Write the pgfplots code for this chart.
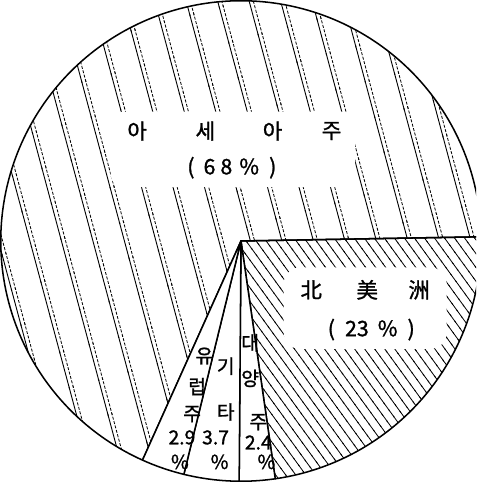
\documentclass[border=0pt]{standalone}
\usepackage{fontspec}
\setmainfont{Noto Sans CJK KR}[AutoFakeBold=1.2]
\usepackage{pgfplots}
\pgfplotsset{compat=1.18}
\usetikzlibrary{patterns.meta}

% pie data (percent)
\def\vNA{23}\def\vOC{2.4}\def\vOT{3.7}\def\vEU{2.9}\def\vAS{68}
\def\R{236}
\pgfmathsetmacro\aS{1}
\pgfmathsetmacro\aNA{\aS-3.6*\vNA}
\pgfmathsetmacro\aOC{\aNA-3.6*\vOC}
\pgfmathsetmacro\aOT{\aOC-3.6*\vOT}
\pgfmathsetmacro\aEU{\aOT-3.6*\vEU}
\pgfmathsetmacro\aAS{\aEU-3.6*\vAS}

\tikzdeclarepattern{
  name=asiahatch,
  type=uncolored,
  bottom left={(-1pt,-1pt)},
  top right={(31pt,37pt)},
  tile size={(30pt,36pt)},
  tile transformation={rotate=15},
  code={
    \draw[line width=0.9pt] (0pt,-1pt) -- (0pt,37pt);
    \draw[line width=0.8pt, dash pattern=on 3pt off 1.5pt] (4pt,-1pt) -- (4pt,37pt);
  }
}
\tikzdeclarepattern{
  name=nahatch,
  type=uncolored,
  bottom left={(-1pt,-1pt)},
  top right={(9pt,9pt)},
  tile size={(8pt,8pt)},
  tile transformation={rotate=36},
  code={
    \draw[line width=0.8pt] (0pt,-1pt) -- (0pt,9pt);
  }
}

\begin{document}
\begin{tikzpicture}
\begin{axis}[width=474bp, height=482bp, scale only axis, hide axis,
  xmin=-243, xmax=231, ymin=-242, ymax=240, clip=true]
% Asia
\addplot[draw=black, line width=1.5pt, line join=round, pattern=asiahatch,
  domain=\aAS:\aEU, samples=200, variable=\t]
  ({\R*cos(\t)},{\R*sin(\t)}) -- (axis cs:0,0) -- cycle;
% North America
\addplot[draw=black, line width=1.5pt, line join=round, pattern=nahatch,
  domain=\aNA:\aS, samples=80, variable=\t]
  ({\R*cos(\t)},{\R*sin(\t)}) -- (axis cs:0,0) -- cycle;
% Oceania
\addplot[draw=black, line width=1.5pt, line join=round, fill=white,
  domain=\aOC:\aNA, samples=20, variable=\t]
  ({\R*cos(\t)},{\R*sin(\t)}) -- (axis cs:0,0) -- cycle;
% Other
\addplot[draw=black, line width=1.5pt, line join=round, fill=white,
  domain=\aOT:\aOC, samples=20, variable=\t]
  ({\R*cos(\t)},{\R*sin(\t)}) -- (axis cs:0,0) -- cycle;
% Europe
\addplot[draw=black, line width=1.5pt, line join=round, fill=white,
  domain=\aEU:\aOT, samples=20, variable=\t]
  ({\R*cos(\t)},{\R*sin(\t)}) -- (axis cs:0,0) -- cycle;

% label backgrounds
\node[fill=white, rounded corners=12pt, minimum width=240bp, minimum height=74bp] at (axis cs:-8,90) {};
\node[fill=white, rounded corners=16pt, minimum width=160bp, minimum height=80bp] at (axis cs:122,-66) {};

% Asia label
\begin{scope}[every node/.style={font=\fontsize{21}{24}\selectfont\bfseries}]
\node at (axis cs:-102,108) {아};
\node at (axis cs:-35,108) {세};
\node at (axis cs:31,108) {아};
\node at (axis cs:89,108) {주};
\node at (axis cs:-9,72) {(\hspace{9pt}6\hspace{5pt}8\hspace{7pt}\%\hspace{10pt})};
% North America
\node at (axis cs:69,-48) {北};
\node at (axis cs:124,-48) {美};
\node at (axis cs:175,-48) {洲};
\node at (axis cs:128,-87) {(\hspace{10pt}23\hspace{9pt}\%\hspace{10pt})};
\end{scope}

\begin{scope}[every node/.style={font=\fontsize{19}{21}\selectfont\bfseries, inner sep=0pt}]
% Europe
\node at (axis cs:-36,-113) {유};
\node at (axis cs:-43,-143) {럽};
\node at (axis cs:-48,-170) {주};
\node at (axis cs:-58,-193) {2.9};
\node at (axis cs:-60,-217) {\%};
% Other
\node at (axis cs:-15,-123) {기};
\node at (axis cs:-15,-168) {타};
\node at (axis cs:-25,-193) {3.7};
\node at (axis cs:-21,-217) {\%};
% Oceania
\node at (axis cs:9,-100) {대};
\node at (axis cs:9,-135) {양};
\node at (axis cs:17,-178) {주};
\node at (axis cs:17,-198) {2.4};
\node at (axis cs:25,-217) {\%};
\end{scope}
\end{axis}
\end{tikzpicture}
\end{document}
